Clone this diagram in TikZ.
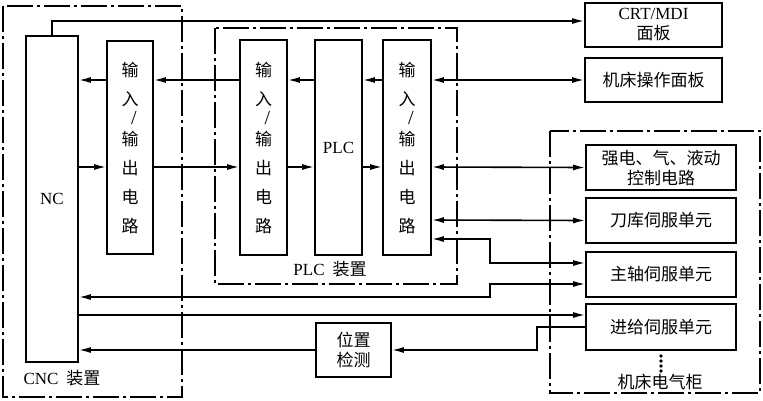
\documentclass[tikz,border=0pt]{standalone}
\usepackage{fontspec}
\setmainfont{Liberation Serif}
\newfontfamily\cjk{Noto Sans CJK SC}
\usetikzlibrary{arrows.meta}
\newcommand{\iotext}{\cjk 输\\[9pt]\cjk 入\\[-1pt]\rmfamily\fontsize{20}{16}\selectfont\hspace{8pt}/\\[1pt]\cjk\fontsize{17}{20}\selectfont 输\\[9pt]\cjk 出\\[9pt]\cjk 电\\[9pt]\cjk 路}
\begin{document}
\begin{tikzpicture}[x=1pt,y=-1pt,
  box/.style={draw,line width=1.7pt,inner sep=0pt,font=\fontsize{17}{20}\selectfont},
  ln/.style={line width=1.6pt},
  ar/.style={ln,-{Latex[length=12pt,width=6pt]}},
  dar/.style={ln,{Latex[length=12pt,width=6pt]}-{Latex[length=12pt,width=6pt]}},
  dd/.style={line width=1.3pt,dash pattern=on 26pt off 4pt on 3pt off 4pt}]
\useasboundingbox (0,0) rectangle (763,400);
% dash-dot frames
\draw[dd] (3,6) rectangle (182,397);
\draw[dd] (215,28) rectangle (457,284);
\draw[dd] (550,131) rectangle (760,393);
% nodes
\node[box,minimum width=52pt,minimum height=326pt] (nc) at (52,199) {NC};
\node[box,minimum width=46pt,minimum height=213pt,align=center] (io1) at (130,147.5) {\iotext};
\node[box,minimum width=47pt,minimum height=215pt,align=center] (io2) at (263.5,147.5) {\iotext};
\node[box,minimum width=47pt,minimum height=215pt] (plc) at (338.5,147.5) {PLC};
\node[box,minimum width=48pt,minimum height=215pt,align=center] (io3) at (407,147.5) {\iotext};
\node[box,minimum width=137pt,minimum height=44pt,align=center] (crt) at (653.5,25) {CRT/MDI\\[0pt]\cjk 面板};
\node[box,minimum width=137pt,minimum height=44pt] (pan) at (653.5,80) {\cjk 机床操作面板};
\node[box,minimum width=150pt,minimum height=45pt,align=center] (qd) at (661,167.5) {\cjk 强电、气、液动\\[0pt]\cjk 控制电路};
\node[box,minimum width=150pt,minimum height=45pt] (dk) at (661,220.5) {\cjk 刀库伺服单元};
\node[box,minimum width=150pt,minimum height=45pt] (zz) at (661,274.5) {\cjk 主轴伺服单元};
\node[box,minimum width=150pt,minimum height=46pt] (jj) at (661,327) {\cjk 进给伺服单元};
\node[box,minimum width=75pt,minimum height=54pt,align=center] (wz) at (353.5,350) {\cjk 位置\\[0pt]\cjk 检测};
\node[font=\fontsize{17}{20}\selectfont] (cncl) at (62,378) {CNC\hspace{8pt}\cjk 装置};
\node[font=\fontsize{17}{20}\selectfont] (plcl) at (330,269) {PLC\hspace{8pt}\cjk 装置};
\node[font=\fontsize{17}{20}\selectfont] (cab) at (660,382) {\cjk 机床电气柜};
\foreach \yy in {356,361,366,371}{\fill (661,\yy) circle (1.8pt);}
% arrows upper row
\draw[ar] (io1.west |- 0,80) -- (nc.east |- 0,80);
\draw[ar] (io2.west |- 0,80) -- (io1.east |- 0,80);
\draw[ar] (plc.west |- 0,80) -- (io2.east |- 0,80);
\draw[ar] (io3.west |- 0,80) -- (plc.east |- 0,80);
% lower row
\draw[ar] (nc.east |- 0,167) -- (io1.west |- 0,167);
\draw[ar] (io1.east |- 0,167) -- (io2.west |- 0,167);
\draw[ar] (io2.east |- 0,167) -- (plc.west |- 0,167);
\draw[ar] (plc.east |- 0,167) -- (io3.west |- 0,167);
% NC to CRT
\draw[ar] (nc.north) -- (52,21) -- (crt.west |- 0,21);
% IO3 to right
\draw[dar] (io3.east |- 0,80) -- (pan.west);
\draw[dar] (io3.east |- 0,167) -- (qd.west);
\draw[dar] (io3.east |- 0,220) -- (dk.west);
\draw[dar] (io3.east |- 0,239) -- (490,239) -- (490,263) -- (zz.west |- 0,263);
\draw[dar] (nc.east |- 0,297) -- (490,297) -- (490,284) -- (zz.west |- 0,284);
\draw[ar] (nc.east |- 0,315) -- (jj.west |- 0,315);
\draw[ar] (jj.west |- 0,327) -- (537,327) -- (537,350) -- (wz.east);
\draw[ar] (wz.west) -- (nc.east |- 0,350);
\end{tikzpicture}
\end{document}
